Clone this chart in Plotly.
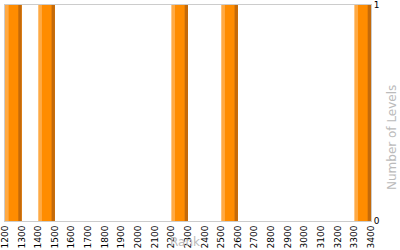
import plotly.graph_objects as go

bin_starts = [1200, 1400, 2200, 2500, 3300]
counts = [1, 1, 1, 1, 1]
bin_size = 100
x_ticks = list(range(1200, 3401, 100))
y_ticks = [0, 1]

fig = go.Figure()
# three-tone bar: light left edge, orange body, dark right edge
for color, off, w in [("#FFAA44", 0, 100), ("#FF8C00", 22, 78), ("#C46A0A", 80, 20)]:
    fig.add_trace(go.Bar(x=bin_starts, y=counts, offset=off, width=w,
                         marker=dict(color=color, line=dict(width=0)),
                         hoverinfo="skip", showlegend=False))

L, R, T, B = 5, 29, 5, 29
pw, ph = 400 - L - R, 250 - T - B

fig.update_layout(
    width=400, height=250, barmode="overlay",
    margin=dict(l=L, r=R, t=T, b=B),
    paper_bgcolor="white", plot_bgcolor="white",
    font=dict(family="DejaVu Sans", size=9, color="black"),
    xaxis=dict(range=[1200, 3400], tickvals=x_ticks, tickangle=-90,
               showgrid=False, zeroline=False, showline=True, mirror=True,
               linecolor="#CCCCCC", linewidth=1, ticks="", ticklen=0,
               automargin=False, ticklabeloverflow="allow",
               tickfont=dict(size=9)),
    yaxis=dict(range=[0, 1], tickvals=y_ticks, side="right",
               showgrid=False, zeroline=False, showline=True, mirror=True,
               linecolor="#CCCCCC", linewidth=1, ticks="",
               automargin=False, ticklabeloverflow="allow",
               tickfont=dict(size=9)),
    annotations=[
        dict(text="Rank", x=(185 - L) / pw, y=(221 - 242) / ph,
             xref="paper", yref="paper", xanchor="center", yanchor="middle",
             showarrow=False, font=dict(size=12, color="#BBBBBB")),
        dict(text="Number of Levels", x=(392 - L) / pw, y=(221 - 138) / ph,
             xref="paper", yref="paper", xanchor="center", yanchor="middle",
             textangle=-90, showarrow=False,
             font=dict(size=12, color="#BBBBBB")),
    ],
)
fig.write_html("out.html")
